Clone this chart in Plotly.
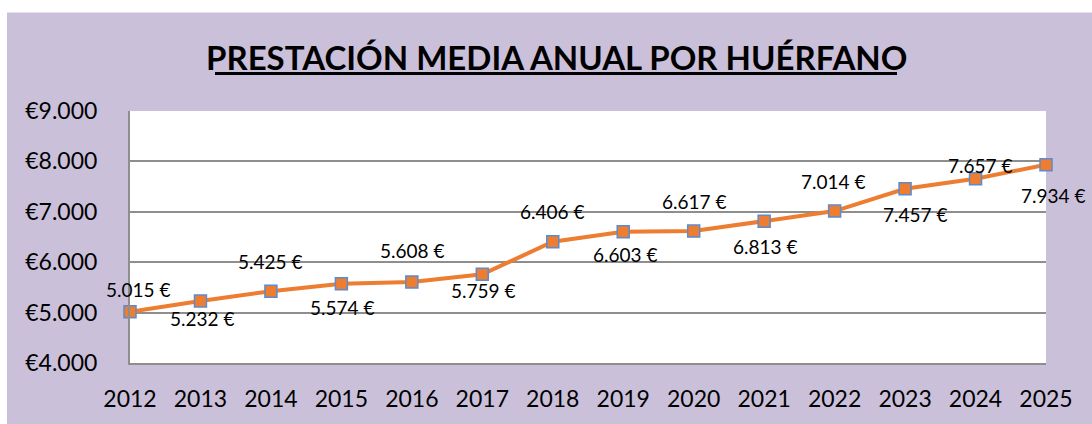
import plotly.graph_objects as go

years = [2012, 2013, 2014, 2015, 2016, 2017, 2018, 2019, 2020, 2021, 2022, 2023, 2024, 2025]
values = [5015, 5232, 5425, 5574, 5608, 5759, 6406, 6603, 6617, 6813, 7014, 7457, 7657, 7934]
title_text = "PRESTACIÓN MEDIA ANUAL POR HUÉRFANO"
y_ticks = [4000, 5000, 6000, 7000, 8000, 9000]

# label placement (pixel shifts, styling only)
label_shift = [(8, 22), (2, -18), (-1, 30), (1, -24), (0, 31), (1, -16), (-1, 30),
               (2, -23), (0, 30), (1, -25), (-2, 30), (10, -26), (4, 13), (7, -31)]

W, H = 1092, 424
L, R, T, B = 130, 46, 111, 57
pw, ph = W - L - R, H - T - B


def px_x(p):
    return (p - L) / pw


def px_y(p):
    return 1 + (T - p) / ph


def fmt(v):
    return f"{v:,}".replace(",", ".")


PURPLE = "#CBC0DA"
ORANGE = "#ED7D31"
BLUE = "#5B8BD0"
GRID = "#8E8E8E"
FONT = "Lato"

fig = go.Figure()
fig.add_trace(go.Scatter(
    x=years, y=values, mode="lines+markers",
    line=dict(color=ORANGE, width=4),
    marker=dict(symbol="square", size=12, color=ORANGE, line=dict(color=BLUE, width=1.5)),
    hoverinfo="skip", cliponaxis=False,
))

annotations = []
for yr, v, (dx, dy) in zip(years, values, label_shift):
    annotations.append(dict(
        x=yr, y=v, xref="x", yref="y", text=f"{fmt(v)} €", showarrow=False,
        xshift=dx, yshift=dy, font=dict(family=FONT, size=19, color="#000000"),
    ))

annotations.append(dict(
    x=px_x(556), y=px_y(56), xref="paper", yref="paper", text=f"<b>{title_text}</b>",
    showarrow=False, xanchor="center", yanchor="middle",
    font=dict(family=FONT, size=33, color="#000000"),
))

shapes = [
    # white strips around purple panel
    dict(type="rect", xref="paper", yref="paper", x0=px_x(-5), x1=px_x(W + 5), y0=px_y(11), y1=px_y(-5),
         fillcolor="white", line=dict(width=0), layer="above"),
    dict(type="rect", xref="paper", yref="paper", x0=px_x(-5), x1=px_x(7), y0=px_y(H + 5), y1=px_y(-5),
         fillcolor="white", line=dict(width=0), layer="above"),
    # title underline
    dict(type="line", xref="paper", yref="paper", x0=px_x(215), x1=px_x(897), y0=px_y(73), y1=px_y(73),
         line=dict(color="#000000", width=3)),
]

fig.update_layout(
    width=W, height=H,
    margin=dict(l=L, r=R, t=T, b=B, pad=0),
    paper_bgcolor=PURPLE, plot_bgcolor="white",
    separators=",.",
    showlegend=False,
    annotations=annotations,
    shapes=shapes,
    xaxis=dict(
        range=[years[0], years[-1]], tickmode="array", tickvals=years, ticktext=[str(y) for y in years],
        showgrid=False, zeroline=False, showline=True, linecolor=GRID, linewidth=2,
        ticks="", ticklabelstandoff=14,
        tickfont=dict(family=FONT, size=23, color="#000000"),
    ),
    yaxis=dict(
        range=[y_ticks[0], y_ticks[-1]], tickmode="array", tickvals=y_ticks,
        ticktext=["€" + fmt(t) for t in y_ticks],
        showgrid=True, gridcolor=GRID, gridwidth=2, zeroline=False,
        showline=True, linecolor=GRID, linewidth=2, ticks="", ticklabelstandoff=26,
        tickfont=dict(family=FONT, size=23, color="#000000"),
    ),
)

fig.write_html("out.html", config={"displayModeBar": False},
               post_script="document.body.style.margin='0';document.body.style.overflow='hidden';")
